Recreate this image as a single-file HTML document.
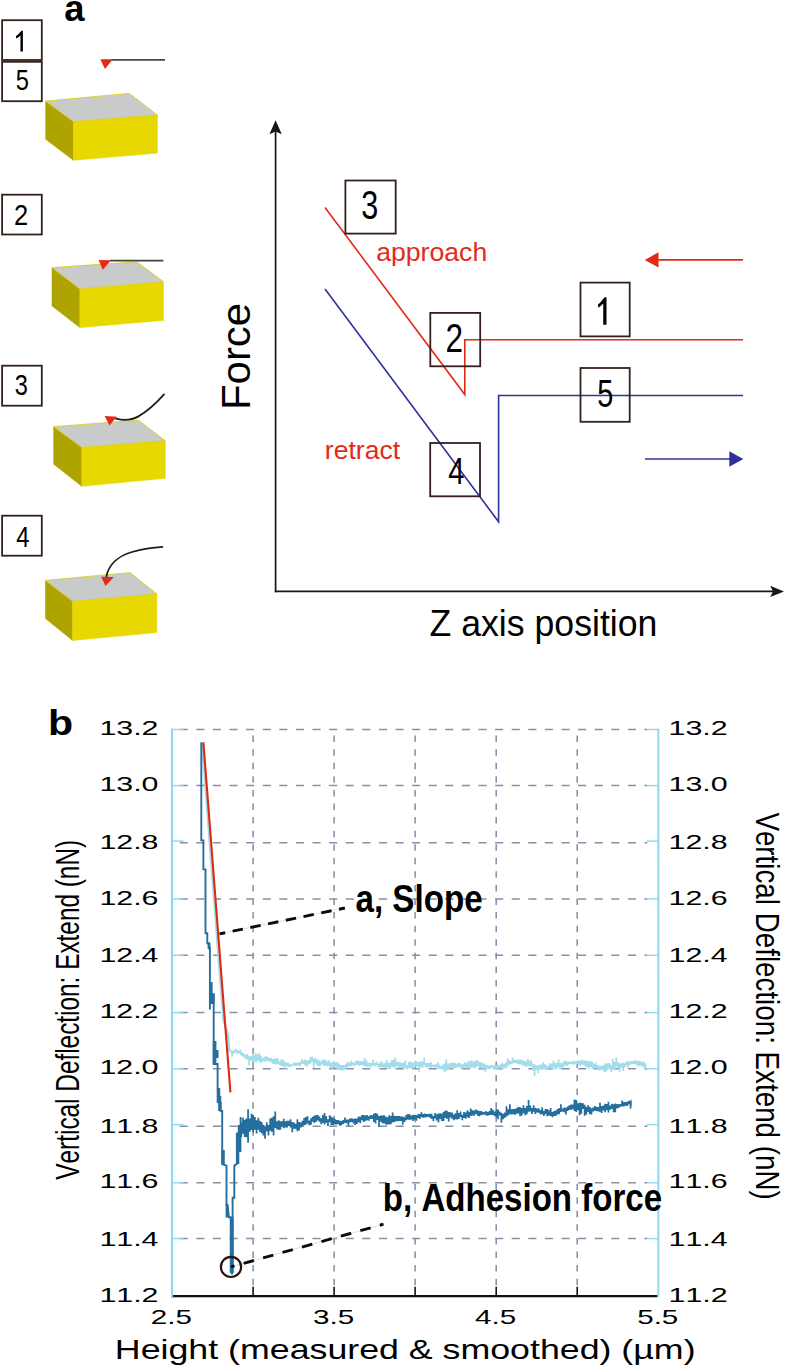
<!DOCTYPE html>
<html><head><meta charset="utf-8"><title>Figure</title>
<style>html,body{margin:0;padding:0;background:#fff;}svg{display:block;}text{font-family:"Liberation Sans", sans-serif;font-kerning:none;}</style></head><body>
<svg width="785" height="1367" viewBox="0 0 785 1367">
<rect x="0" y="0" width="785" height="1367" fill="#ffffff"/>
<text transform="translate(64.33,20.94) scale(0.9819,1)" font-size="37.05" fill="#000" font-weight="bold">a</text>
<rect x="2.10" y="20.20" width="39.70" height="39.80" fill="none" stroke="#33201b" stroke-width="1.80"/>
<path d="M22.90,51.50 L20.45,51.50 L20.45,35.48 L20.45,35.48 C19.11,36.94 17.33,38.08 16.00,38.50 L16.00,36.00 C18.22,34.86 19.41,32.78 21.55,30.70 L22.90,30.70 Z" fill="#000"/>
<rect x="2.10" y="61.80" width="39.70" height="39.40" fill="none" stroke="#33201b" stroke-width="1.80"/>
<text transform="translate(15.75,90.42) scale(0.8120,1)" font-size="29.09" fill="#000">5</text>
<rect x="2.10" y="194.70" width="39.70" height="39.80" fill="none" stroke="#33201b" stroke-width="1.80"/>
<text transform="translate(14.02,224.60) scale(0.8466,1)" font-size="30.08" fill="#000">2</text>
<rect x="2.10" y="365.70" width="39.70" height="40.00" fill="none" stroke="#33201b" stroke-width="1.80"/>
<text transform="translate(14.80,394.51) scale(0.7927,1)" font-size="29.80" fill="#000">3</text>
<rect x="2.10" y="515.70" width="39.70" height="40.00" fill="none" stroke="#33201b" stroke-width="1.80"/>
<text transform="translate(16.15,546.70) scale(0.7839,1)" font-size="30.38" fill="#000">4</text>
<polygon points="45.7,101.1 73.4,121.5 73.4,160.3 45.7,139.3" fill="#afa300" stroke="#afa300" stroke-width="0.6"/>
<polygon points="73.4,121.5 157.4,115.0 157.4,153.1 73.4,160.3" fill="#e6d800" stroke="#e6d800" stroke-width="0.6"/>
<polygon points="45.7,101.1 129.3,93.4 157.4,115.0 73.4,121.5" fill="#c9cbcb" stroke="#dccf20" stroke-width="0.9"/>
<polygon points="52.0,267.6 79.9,288.9 79.9,327.6 52.0,305.9" fill="#afa300" stroke="#afa300" stroke-width="0.6"/>
<polygon points="79.9,288.9 163.4,281.7 163.4,320.4 79.9,327.6" fill="#e6d800" stroke="#e6d800" stroke-width="0.6"/>
<polygon points="52.0,267.6 136.8,261.8 163.4,281.7 79.9,288.9" fill="#c9cbcb" stroke="#dccf20" stroke-width="0.9"/>
<polygon points="53.7,426.7 81.8,447.3 81.8,486.3 53.7,464.2" fill="#afa300" stroke="#afa300" stroke-width="0.6"/>
<polygon points="81.8,447.3 165.3,440.8 165.3,478.3 81.8,486.3" fill="#e6d800" stroke="#e6d800" stroke-width="0.6"/>
<polygon points="53.7,426.7 138.4,420.2 165.3,440.8 81.8,447.3" fill="#c9cbcb" stroke="#dccf20" stroke-width="0.9"/>
<polygon points="45.5,580.4 72.6,601.2 72.6,640.4 45.5,618.6" fill="#afa300" stroke="#afa300" stroke-width="0.6"/>
<polygon points="72.6,601.2 156.8,593.9 156.8,632.6 72.6,640.4" fill="#e6d800" stroke="#e6d800" stroke-width="0.6"/>
<polygon points="45.5,580.4 130.0,572.6 156.8,593.9 72.6,601.2" fill="#c9cbcb" stroke="#dccf20" stroke-width="0.9"/>
<line x1="111.5" y1="59.8" x2="165" y2="59.8" stroke="#444444" stroke-width="1.8"/>
<polygon points="100.3,59.2 112.8,59.2 105,69" fill="#e32a18"/>
<line x1="110" y1="260.7" x2="163.4" y2="260.7" stroke="#444444" stroke-width="1.8"/>
<polygon points="98.6,259.9 110.9,260.3 102.8,269.8" fill="#e32a18"/>
<path d="M113.5,417.3 C118,420.3 130,421.2 138,416.6 C148,411 157,402.2 164.5,393.8" fill="none" stroke="#1c1c1c" stroke-width="1.8"/>
<polygon points="104.7,416.1 116.9,416.7 109.5,425.6" fill="#e32a18"/>
<path d="M106.3,577 C108.5,565 118,556 132,552 C142,549 153,547.4 163.1,546.9" fill="none" stroke="#1c1c1c" stroke-width="1.8"/>
<polygon points="101.2,576.7 113.8,577 105.5,586" fill="#e32a18"/>
<line x1="275.6" y1="130" x2="275.6" y2="592.2" stroke="#17171c" stroke-width="1.7"/>
<line x1="274.8" y1="591.4" x2="773" y2="591.4" stroke="#17171c" stroke-width="1.6"/>
<polygon points="275.6,120.2 269.4,134.3 275.6,131.6 281.8,134.3" fill="#17171c"/>
<polygon points="784,591.4 770.2,585.7 773,591.4 770.2,597.1" fill="#17171c"/>
<polyline points="325,207.5 464.8,394.6 464.8,339.8 743,339.8" fill="none" stroke="#e32a18" stroke-width="1.6"/>
<polyline points="325,289 498.6,521.8 498.6,395.5 743,395.5" fill="none" stroke="#30309c" stroke-width="1.6"/>
<line x1="655" y1="259.9" x2="743" y2="259.9" stroke="#e32a18" stroke-width="1.6"/>
<polygon points="644.8,259.9 658.5,252.3 658.5,267.5" fill="#e32a18"/>
<line x1="645" y1="459" x2="733" y2="459" stroke="#30309c" stroke-width="1.6"/>
<polygon points="743.3,459 729.3,451.2 729.3,466.8" fill="#30309c"/>
<rect x="345.40" y="180.50" width="50.30" height="53.10" fill="none" stroke="#33201b" stroke-width="1.80"/>
<text transform="translate(361.24,218.91) scale(0.7678,1)" font-size="39.83" fill="#000">3</text>
<rect x="430.30" y="312.90" width="49.90" height="53.40" fill="none" stroke="#33201b" stroke-width="1.80"/>
<text transform="translate(445.61,352.40) scale(0.7911,1)" font-size="39.96" fill="#000">2</text>
<rect x="580.50" y="282.60" width="49.20" height="53.80" fill="none" stroke="#33201b" stroke-width="1.80"/>
<path d="M606.50,324.80 L603.24,324.80 L603.24,303.55 L603.24,303.55 C601.70,305.48 599.64,307.00 598.10,307.55 L598.10,304.24 C600.67,302.72 601.98,299.96 604.71,297.20 L606.50,297.20 Z" fill="#000"/>
<rect x="580.50" y="368.00" width="49.20" height="53.80" fill="none" stroke="#33201b" stroke-width="1.80"/>
<text transform="translate(597.24,406.52) scale(0.7332,1)" font-size="39.41" fill="#000">5</text>
<rect x="430.20" y="443.00" width="49.80" height="53.30" fill="none" stroke="#33201b" stroke-width="1.80"/>
<text transform="translate(448.23,483.70) scale(0.7719,1)" font-size="37.79" fill="#000">4</text>
<text transform="translate(376.17,261.30) scale(1.0537,1)" font-size="25.30" fill="#e32a18">approach</text>
<text transform="translate(324.83,459.00) scale(1.0511,1)" font-size="25.30" fill="#e32a18">retract</text>
<text transform="translate(429.47,635.60) scale(0.9591,1)" font-size="37.20" fill="#000">Z axis position</text>
<text transform="translate(249.70,410.04) rotate(-90) scale(1.0355,1)" font-size="40.50" fill="#000">Force</text>
<text transform="translate(47.99,735.05) scale(1.1427,1)" font-size="35.95" fill="#000" font-weight="bold">b</text>
<line x1="179.7" y1="729.5" x2="647.3" y2="729.5" stroke="#8a8fa7" stroke-width="1.5" stroke-dasharray="8.1 8.5"/>
<line x1="179.7" y1="785.6" x2="647.3" y2="785.6" stroke="#8a8fa7" stroke-width="1.5" stroke-dasharray="8.1 8.5"/>
<line x1="179.7" y1="842.8" x2="647.3" y2="842.8" stroke="#8a8fa7" stroke-width="1.5" stroke-dasharray="8.1 8.5"/>
<line x1="179.7" y1="898.9" x2="647.3" y2="898.9" stroke="#8a8fa7" stroke-width="1.5" stroke-dasharray="8.1 8.5"/>
<line x1="179.7" y1="955.3" x2="647.3" y2="955.3" stroke="#8a8fa7" stroke-width="1.5" stroke-dasharray="8.1 8.5"/>
<line x1="179.7" y1="1012.6" x2="647.3" y2="1012.6" stroke="#8a8fa7" stroke-width="1.5" stroke-dasharray="8.1 8.5"/>
<line x1="179.7" y1="1068.8" x2="647.3" y2="1068.8" stroke="#8a8fa7" stroke-width="1.5" stroke-dasharray="8.1 8.5"/>
<line x1="179.7" y1="1126.3" x2="647.3" y2="1126.3" stroke="#8a8fa7" stroke-width="1.5" stroke-dasharray="8.1 8.5"/>
<line x1="179.7" y1="1182.8" x2="647.3" y2="1182.8" stroke="#8a8fa7" stroke-width="1.5" stroke-dasharray="8.1 8.5"/>
<line x1="179.7" y1="1238.6" x2="647.3" y2="1238.6" stroke="#8a8fa7" stroke-width="1.5" stroke-dasharray="8.1 8.5"/>
<line x1="253.1" y1="729.5" x2="253.1" y2="1288.1" stroke="#8a8fa7" stroke-width="1.55" stroke-dasharray="6.5 7.077" stroke-dashoffset="-6.1"/>
<line x1="334.1" y1="729.5" x2="334.1" y2="1288.1" stroke="#8a8fa7" stroke-width="1.55" stroke-dasharray="6.5 7.077" stroke-dashoffset="-6.1"/>
<line x1="415.1" y1="729.5" x2="415.1" y2="1288.1" stroke="#8a8fa7" stroke-width="1.55" stroke-dasharray="6.5 7.077" stroke-dashoffset="-6.1"/>
<line x1="496.2" y1="729.5" x2="496.2" y2="1288.1" stroke="#8a8fa7" stroke-width="1.55" stroke-dasharray="6.5 7.077" stroke-dashoffset="-6.1"/>
<line x1="577.2" y1="729.5" x2="577.2" y2="1288.1" stroke="#8a8fa7" stroke-width="1.55" stroke-dasharray="6.5 7.077" stroke-dashoffset="-6.1"/>
<line x1="172.0" y1="728.5" x2="172.0" y2="1298.3" stroke="#8fd8ee" stroke-width="2.2"/>
<line x1="658.3" y1="728.5" x2="658.3" y2="1297.1" stroke="#8fd8ee" stroke-width="2.0"/>
<line x1="172.0" y1="729.5" x2="183.5" y2="729.5" stroke="#8fd8ee" stroke-width="1.4"/>
<line x1="646.8" y1="729.5" x2="658.3" y2="729.5" stroke="#8fd8ee" stroke-width="1.4"/>
<line x1="172.0" y1="785.6" x2="183.5" y2="785.6" stroke="#8fd8ee" stroke-width="1.4"/>
<line x1="646.8" y1="785.6" x2="658.3" y2="785.6" stroke="#8fd8ee" stroke-width="1.4"/>
<line x1="172.0" y1="841.1" x2="183.5" y2="841.1" stroke="#8fd8ee" stroke-width="1.4"/>
<line x1="646.8" y1="841.1" x2="658.3" y2="841.1" stroke="#8fd8ee" stroke-width="1.4"/>
<line x1="172.0" y1="898.9" x2="183.5" y2="898.9" stroke="#8fd8ee" stroke-width="1.4"/>
<line x1="646.8" y1="898.9" x2="658.3" y2="898.9" stroke="#8fd8ee" stroke-width="1.4"/>
<line x1="172.0" y1="955.3" x2="183.5" y2="955.3" stroke="#8fd8ee" stroke-width="1.4"/>
<line x1="646.8" y1="955.3" x2="658.3" y2="955.3" stroke="#8fd8ee" stroke-width="1.4"/>
<line x1="172.0" y1="1012.6" x2="183.5" y2="1012.6" stroke="#8fd8ee" stroke-width="1.4"/>
<line x1="646.8" y1="1012.6" x2="658.3" y2="1012.6" stroke="#8fd8ee" stroke-width="1.4"/>
<line x1="172.0" y1="1068.8" x2="183.5" y2="1068.8" stroke="#8fd8ee" stroke-width="1.4"/>
<line x1="646.8" y1="1068.8" x2="658.3" y2="1068.8" stroke="#8fd8ee" stroke-width="1.4"/>
<line x1="172.0" y1="1124.6" x2="183.5" y2="1124.6" stroke="#8fd8ee" stroke-width="1.4"/>
<line x1="646.8" y1="1124.6" x2="658.3" y2="1124.6" stroke="#8fd8ee" stroke-width="1.4"/>
<line x1="172.0" y1="1182.8" x2="183.5" y2="1182.8" stroke="#8fd8ee" stroke-width="1.4"/>
<line x1="646.8" y1="1182.8" x2="658.3" y2="1182.8" stroke="#8fd8ee" stroke-width="1.4"/>
<line x1="172.0" y1="1238.6" x2="183.5" y2="1238.6" stroke="#8fd8ee" stroke-width="1.4"/>
<line x1="646.8" y1="1238.6" x2="658.3" y2="1238.6" stroke="#8fd8ee" stroke-width="1.4"/>
<line x1="173.0" y1="1296.1" x2="657.3" y2="1296.1" stroke="#111" stroke-width="2.2"/>
<line x1="253.1" y1="1286.8" x2="253.1" y2="1296.1" stroke="#111" stroke-width="1.6"/>
<line x1="334.1" y1="1286.8" x2="334.1" y2="1296.1" stroke="#111" stroke-width="1.6"/>
<line x1="415.1" y1="1286.8" x2="415.1" y2="1296.1" stroke="#111" stroke-width="1.6"/>
<line x1="496.2" y1="1286.8" x2="496.2" y2="1296.1" stroke="#111" stroke-width="1.6"/>
<line x1="577.2" y1="1286.8" x2="577.2" y2="1296.1" stroke="#111" stroke-width="1.6"/>
<polyline points="202.0,742.3 223.4,1020.0 227.8,1034.0 229.2,1049.0" fill="none" stroke="#a3dcea" stroke-width="2.30" stroke-linejoin="miter"/>
<path d="M227.80,1045.0h1.75v6.4h-1.75zM229.50,1049.2h1.75v3.2h-1.75zM231.20,1050.7h1.75v6.0h-1.75zM232.90,1050.6h1.75v3.1h-1.75zM234.60,1048.7h1.75v3.2h-1.75zM236.30,1049.8h1.75v4.2h-1.75zM238.00,1050.4h1.75v2.9h-1.75zM239.70,1049.8h1.75v5.2h-1.75zM241.40,1052.5h1.75v3.8h-1.75zM243.10,1053.5h1.75v4.1h-1.75zM244.80,1055.1h1.75v4.2h-1.75zM246.50,1053.7h1.75v6.1h-1.75zM248.20,1056.3h1.75v8.9h-1.75zM249.90,1056.1h1.75v4.6h-1.75zM251.60,1055.3h1.75v6.2h-1.75zM253.30,1054.8h1.75v6.2h-1.75zM255.00,1053.2h1.75v9.5h-1.75zM256.70,1054.5h1.75v6.3h-1.75zM258.40,1052.9h1.75v8.5h-1.75zM260.10,1055.7h1.75v7.3h-1.75zM261.80,1058.0h1.75v3.6h-1.75zM263.50,1057.2h1.75v4.4h-1.75zM265.20,1056.1h1.75v5.5h-1.75zM266.90,1056.9h1.75v4.0h-1.75zM268.60,1058.2h1.75v3.4h-1.75zM270.30,1057.8h1.75v4.7h-1.75zM272.00,1059.0h1.75v4.7h-1.75zM273.70,1058.5h1.75v5.4h-1.75zM275.40,1058.2h1.75v6.5h-1.75zM277.10,1058.5h1.75v5.6h-1.75zM278.80,1061.4h1.75v3.5h-1.75zM280.50,1059.0h1.75v7.2h-1.75zM282.20,1059.7h1.75v6.7h-1.75zM283.90,1061.5h1.75v7.9h-1.75zM285.60,1062.7h1.75v3.3h-1.75zM287.30,1062.8h1.75v4.3h-1.75zM289.00,1064.2h1.75v2.8h-1.75zM290.70,1064.3h1.75v2.1h-1.75zM292.40,1063.3h1.75v2.3h-1.75zM294.10,1062.5h1.75v3.6h-1.75zM295.80,1062.9h1.75v2.8h-1.75zM297.50,1062.3h1.75v3.2h-1.75zM299.20,1062.0h1.75v4.3h-1.75zM300.90,1059.3h1.75v4.3h-1.75zM302.60,1060.4h1.75v3.6h-1.75zM304.30,1059.2h1.75v6.4h-1.75zM306.00,1060.6h1.75v6.1h-1.75zM307.70,1060.2h1.75v4.4h-1.75zM309.40,1057.4h1.75v6.4h-1.75zM311.10,1056.6h1.75v5.4h-1.75zM312.80,1058.5h1.75v9.2h-1.75zM314.50,1057.7h1.75v5.5h-1.75zM316.20,1059.5h1.75v5.7h-1.75zM317.90,1060.1h1.75v6.5h-1.75zM319.60,1061.5h1.75v4.7h-1.75zM321.30,1059.7h1.75v4.8h-1.75zM323.00,1059.5h1.75v6.2h-1.75zM324.70,1059.7h1.75v6.0h-1.75zM326.40,1061.5h1.75v4.7h-1.75zM328.10,1060.2h1.75v5.7h-1.75zM329.80,1062.4h1.75v5.9h-1.75zM331.50,1062.2h1.75v7.5h-1.75zM333.20,1061.3h1.75v5.7h-1.75zM334.90,1062.4h1.75v4.8h-1.75zM336.60,1061.9h1.75v7.5h-1.75zM338.30,1063.6h1.75v6.7h-1.75zM340.00,1065.1h1.75v5.0h-1.75zM341.70,1065.0h1.75v5.8h-1.75zM343.40,1064.9h1.75v5.3h-1.75zM345.10,1063.6h1.75v4.9h-1.75zM346.80,1061.8h1.75v5.1h-1.75zM348.50,1062.9h1.75v3.7h-1.75zM350.20,1060.8h1.75v5.5h-1.75zM351.90,1062.3h1.75v2.9h-1.75zM353.60,1062.4h1.75v3.8h-1.75zM355.30,1060.7h1.75v4.3h-1.75zM357.00,1060.6h1.75v4.3h-1.75zM358.70,1061.2h1.75v4.7h-1.75zM360.40,1060.9h1.75v4.1h-1.75zM362.10,1061.2h1.75v4.3h-1.75zM363.80,1057.9h1.75v8.4h-1.75zM365.50,1060.3h1.75v6.4h-1.75zM367.20,1062.6h1.75v4.4h-1.75zM368.90,1062.8h1.75v3.7h-1.75zM370.60,1063.0h1.75v4.3h-1.75zM372.30,1059.5h1.75v6.0h-1.75zM374.00,1062.8h1.75v3.8h-1.75zM375.70,1061.6h1.75v3.6h-1.75zM377.40,1063.5h1.75v3.5h-1.75zM379.10,1063.1h1.75v6.8h-1.75zM380.80,1061.0h1.75v5.9h-1.75zM382.50,1063.5h1.75v4.0h-1.75zM384.20,1062.9h1.75v4.8h-1.75zM385.90,1059.7h1.75v7.9h-1.75zM387.60,1063.1h1.75v5.6h-1.75zM389.30,1062.4h1.75v6.5h-1.75zM391.00,1060.2h1.75v6.6h-1.75zM392.70,1059.8h1.75v7.7h-1.75zM394.40,1057.5h1.75v10.1h-1.75zM396.10,1061.4h1.75v4.5h-1.75zM397.80,1062.3h1.75v5.9h-1.75zM399.50,1062.1h1.75v5.6h-1.75zM401.20,1063.1h1.75v4.6h-1.75zM402.90,1062.4h1.75v6.9h-1.75zM404.60,1060.5h1.75v7.2h-1.75zM406.30,1064.9h1.75v4.6h-1.75zM408.00,1061.9h1.75v6.5h-1.75zM409.70,1061.2h1.75v7.0h-1.75zM411.40,1062.7h1.75v5.5h-1.75zM413.10,1062.5h1.75v6.3h-1.75zM414.80,1060.7h1.75v6.0h-1.75zM416.50,1061.7h1.75v5.1h-1.75zM418.20,1062.0h1.75v10.3h-1.75zM419.90,1061.3h1.75v5.6h-1.75zM421.60,1061.7h1.75v6.3h-1.75zM423.30,1057.7h1.75v7.7h-1.75zM425.00,1062.9h1.75v4.4h-1.75zM426.70,1063.0h1.75v4.4h-1.75zM428.40,1063.1h1.75v4.4h-1.75zM430.10,1061.9h1.75v5.6h-1.75zM431.80,1064.7h1.75v2.4h-1.75zM433.50,1064.5h1.75v3.1h-1.75zM435.20,1064.1h1.75v3.5h-1.75zM436.90,1062.1h1.75v6.2h-1.75zM438.60,1064.6h1.75v4.1h-1.75zM440.30,1066.2h1.75v3.0h-1.75zM442.00,1064.4h1.75v4.9h-1.75zM443.70,1063.4h1.75v8.5h-1.75zM445.40,1059.4h1.75v11.1h-1.75zM447.10,1063.4h1.75v6.5h-1.75zM448.80,1063.2h1.75v6.3h-1.75zM450.50,1062.8h1.75v5.3h-1.75zM452.20,1062.7h1.75v6.4h-1.75zM453.90,1062.6h1.75v5.3h-1.75zM455.60,1063.7h1.75v4.3h-1.75zM457.30,1063.1h1.75v4.0h-1.75zM459.00,1063.1h1.75v4.5h-1.75zM460.70,1064.2h1.75v5.1h-1.75zM462.40,1063.7h1.75v4.7h-1.75zM464.10,1062.3h1.75v5.3h-1.75zM465.80,1062.9h1.75v5.5h-1.75zM467.50,1061.0h1.75v6.4h-1.75zM469.20,1061.3h1.75v7.1h-1.75zM470.90,1060.1h1.75v7.7h-1.75zM472.60,1061.4h1.75v6.2h-1.75zM474.30,1061.1h1.75v7.3h-1.75zM476.00,1059.7h1.75v6.7h-1.75zM477.70,1061.6h1.75v5.4h-1.75zM479.40,1062.0h1.75v5.8h-1.75zM481.10,1062.7h1.75v7.7h-1.75zM482.80,1063.3h1.75v4.3h-1.75zM484.50,1064.2h1.75v7.7h-1.75zM486.20,1065.1h1.75v3.1h-1.75zM487.90,1065.5h1.75v3.5h-1.75zM489.60,1065.3h1.75v3.5h-1.75zM491.30,1065.0h1.75v2.8h-1.75zM493.00,1065.4h1.75v4.0h-1.75zM494.70,1065.9h1.75v3.3h-1.75zM496.40,1063.6h1.75v5.7h-1.75zM498.10,1065.3h1.75v3.0h-1.75zM499.80,1064.3h1.75v4.2h-1.75zM501.50,1062.4h1.75v6.5h-1.75zM503.20,1064.0h1.75v3.7h-1.75zM504.90,1062.2h1.75v6.2h-1.75zM506.60,1058.6h1.75v7.8h-1.75zM508.30,1060.0h1.75v4.7h-1.75zM510.00,1060.9h1.75v3.4h-1.75zM511.70,1057.2h1.75v6.3h-1.75zM513.40,1059.5h1.75v3.4h-1.75zM515.10,1060.1h1.75v3.0h-1.75zM516.80,1059.5h1.75v4.6h-1.75zM518.50,1059.7h1.75v4.7h-1.75zM520.20,1059.6h1.75v5.0h-1.75zM521.90,1060.4h1.75v5.0h-1.75zM523.60,1060.5h1.75v5.2h-1.75zM525.30,1061.2h1.75v6.1h-1.75zM527.00,1058.9h1.75v7.2h-1.75zM528.70,1061.2h1.75v5.4h-1.75zM530.40,1060.3h1.75v6.1h-1.75zM532.10,1063.6h1.75v7.1h-1.75zM533.80,1064.5h1.75v11.3h-1.75zM535.50,1065.5h1.75v4.3h-1.75zM537.20,1065.3h1.75v7.7h-1.75zM538.90,1064.8h1.75v4.6h-1.75zM540.60,1064.6h1.75v5.3h-1.75zM542.30,1062.3h1.75v7.0h-1.75zM544.00,1063.9h1.75v4.9h-1.75zM545.70,1065.6h1.75v3.9h-1.75zM547.40,1065.7h1.75v3.9h-1.75zM549.10,1062.9h1.75v5.0h-1.75zM550.80,1063.7h1.75v5.4h-1.75zM552.50,1060.8h1.75v6.6h-1.75zM554.20,1062.8h1.75v6.7h-1.75zM555.90,1063.0h1.75v6.0h-1.75zM557.60,1059.2h1.75v8.0h-1.75zM559.30,1062.7h1.75v6.7h-1.75zM561.00,1063.3h1.75v4.6h-1.75zM562.70,1061.5h1.75v5.4h-1.75zM564.40,1060.7h1.75v4.5h-1.75zM566.10,1061.4h1.75v4.8h-1.75zM567.80,1061.6h1.75v3.2h-1.75zM569.50,1061.6h1.75v2.4h-1.75zM571.20,1061.6h1.75v2.7h-1.75zM572.90,1060.5h1.75v4.3h-1.75zM574.60,1061.4h1.75v2.9h-1.75zM576.30,1061.3h1.75v3.3h-1.75zM578.00,1060.2h1.75v5.2h-1.75zM579.70,1060.8h1.75v4.7h-1.75zM581.40,1059.4h1.75v5.1h-1.75zM583.10,1060.7h1.75v4.4h-1.75zM584.80,1060.3h1.75v6.8h-1.75zM586.50,1061.0h1.75v6.2h-1.75zM588.20,1061.6h1.75v6.9h-1.75zM589.90,1061.0h1.75v6.0h-1.75zM591.60,1061.8h1.75v7.2h-1.75zM593.30,1063.8h1.75v6.2h-1.75zM595.00,1062.7h1.75v5.5h-1.75zM596.70,1065.0h1.75v4.9h-1.75zM598.40,1065.8h1.75v4.8h-1.75zM600.10,1066.1h1.75v3.6h-1.75zM601.80,1065.5h1.75v4.2h-1.75zM603.50,1064.5h1.75v7.8h-1.75zM605.20,1063.1h1.75v8.4h-1.75zM606.90,1063.5h1.75v6.2h-1.75zM608.60,1063.1h1.75v6.0h-1.75zM610.30,1064.8h1.75v7.1h-1.75zM612.00,1058.7h1.75v10.3h-1.75zM613.70,1062.1h1.75v7.3h-1.75zM615.40,1057.2h1.75v9.3h-1.75zM617.10,1062.1h1.75v6.5h-1.75zM618.80,1063.2h1.75v8.7h-1.75zM620.50,1063.3h1.75v4.7h-1.75zM622.20,1062.4h1.75v8.6h-1.75zM623.90,1063.3h1.75v4.2h-1.75zM625.60,1061.3h1.75v4.2h-1.75zM627.30,1061.4h1.75v6.2h-1.75zM629.00,1061.3h1.75v3.7h-1.75zM630.70,1061.2h1.75v2.7h-1.75zM632.40,1061.1h1.75v2.8h-1.75zM634.10,1060.3h1.75v3.9h-1.75zM635.80,1060.7h1.75v4.3h-1.75zM637.50,1061.2h1.75v5.0h-1.75zM639.20,1060.9h1.75v5.1h-1.75zM640.90,1062.0h1.75v4.1h-1.75zM642.60,1061.2h1.75v6.3h-1.75zM644.30,1062.9h1.75v7.6h-1.75zM646.00,1064.0h0.35v4.2h-0.35z" fill="#a3dcea"/>
<polyline points="201.3,742.3 201.3,840.4 203.4,840.4 203.4,869.4 205.5,869.4 205.5,933.3 207.3,933.3 207.3,943.2 209.1,943.2 209.1,948.2 209.9,948.2 209.9,1004.0 209.9,1009.6" fill="none" stroke="#256f9e" stroke-width="1.90" stroke-linejoin="miter"/>
<polyline points="213.7,993.5 213.7,1064.0 217.6,1064.0 217.6,1089.0 219.2,1089.0 219.2,1103.0 220.7,1103.0 220.7,1111.0 222.2,1111.0 222.2,1164.0 226.5,1165.6 226.5,1204.8 227.7,1206.0 228.9,1217.3 230.8,1217.3 230.8,1272.6" fill="none" stroke="#256f9e" stroke-width="1.90" stroke-linejoin="miter"/>
<polyline points="232.6,1273.0 232.6,1197.7 234.3,1197.7 234.3,1165.6 237.0,1163.8 237.0,1133.5 240.6,1133.5 240.6,1117.0" fill="none" stroke="#256f9e" stroke-width="1.90" stroke-linejoin="miter"/>
<rect x="207.6" y="943.0" width="2.8" height="6.0" fill="#256f9e"/>
<rect x="209.0" y="982.0" width="3.6" height="22.0" fill="#256f9e"/>
<rect x="211.0" y="993.5" width="3.6" height="10.5" fill="#256f9e"/>
<rect x="212.8" y="1041.0" width="3.6" height="23.0" fill="#256f9e"/>
<rect x="215.7" y="1050.0" width="2.8" height="8.0" fill="#256f9e"/>
<rect x="216.7" y="1089.0" width="3.4" height="14.0" fill="#256f9e"/>
<rect x="218.2" y="1096.0" width="3.1" height="15.0" fill="#256f9e"/>
<rect x="221.3" y="1150.0" width="3.5" height="14.0" fill="#256f9e"/>
<rect x="225.6" y="1204.0" width="2.8" height="13.5" fill="#256f9e"/>
<rect x="229.9" y="1217.0" width="3.7" height="55.8" fill="#256f9e"/>
<rect x="231.0" y="1272.0" width="2.0" height="2.5" fill="#256f9e"/>
<rect x="235.9" y="1133.0" width="3.4" height="31.0" fill="#256f9e"/>
<rect x="237.8" y="1125.0" width="3.6" height="27.0" fill="#256f9e"/>
<path d="M240.40,1122.3h1.75v14.6h-1.75zM242.10,1117.8h1.75v15.9h-1.75zM243.80,1119.7h1.75v17.2h-1.75zM245.50,1118.6h1.75v18.7h-1.75zM247.20,1109.3h1.75v33.5h-1.75zM248.90,1118.5h1.75v13.2h-1.75zM250.60,1113.6h1.75v16.4h-1.75zM252.30,1115.0h1.75v17.4h-1.75zM254.00,1117.0h1.75v12.7h-1.75zM255.70,1120.2h1.75v13.2h-1.75zM257.40,1117.8h1.75v12.0h-1.75zM259.10,1120.8h1.75v11.1h-1.75zM260.80,1122.0h1.75v11.3h-1.75zM262.50,1124.7h1.75v10.7h-1.75zM264.20,1127.1h1.75v11.6h-1.75zM265.90,1122.2h1.75v9.3h-1.75zM267.60,1125.0h1.75v10.5h-1.75zM269.30,1118.5h1.75v12.3h-1.75zM271.00,1117.8h1.75v13.9h-1.75zM272.70,1116.2h1.75v19.3h-1.75zM274.40,1111.6h1.75v16.5h-1.75zM276.10,1121.3h1.75v8.0h-1.75zM277.80,1120.3h1.75v9.7h-1.75zM279.50,1121.3h1.75v8.4h-1.75zM281.20,1121.3h1.75v5.2h-1.75zM282.90,1118.8h1.75v9.5h-1.75zM284.60,1121.3h1.75v6.3h-1.75zM286.30,1120.8h1.75v6.8h-1.75zM288.00,1120.7h1.75v5.2h-1.75zM289.70,1119.2h1.75v8.3h-1.75zM291.40,1122.1h1.75v10.1h-1.75zM293.10,1122.4h1.75v6.4h-1.75zM294.80,1123.8h1.75v5.2h-1.75zM296.50,1119.2h1.75v12.0h-1.75zM298.20,1122.1h1.75v8.5h-1.75zM299.90,1122.4h1.75v5.2h-1.75zM301.60,1120.8h1.75v5.5h-1.75zM303.30,1118.1h1.75v7.2h-1.75zM305.00,1117.0h1.75v7.8h-1.75zM306.70,1116.2h1.75v7.4h-1.75zM308.40,1120.4h1.75v4.8h-1.75zM310.10,1118.2h1.75v6.5h-1.75zM311.80,1116.8h1.75v5.0h-1.75zM313.50,1115.8h1.75v7.1h-1.75zM315.20,1115.0h1.75v6.7h-1.75zM316.90,1115.1h1.75v5.4h-1.75zM318.60,1116.6h1.75v5.1h-1.75zM320.30,1118.3h1.75v6.0h-1.75zM322.00,1115.0h1.75v8.0h-1.75zM323.70,1113.1h1.75v11.5h-1.75zM325.40,1116.2h1.75v6.6h-1.75zM327.10,1119.2h1.75v6.7h-1.75zM328.80,1115.3h1.75v7.0h-1.75zM330.50,1116.8h1.75v8.3h-1.75zM332.20,1117.7h1.75v7.5h-1.75zM333.90,1118.8h1.75v5.8h-1.75zM335.60,1120.1h1.75v4.3h-1.75zM337.30,1120.0h1.75v4.3h-1.75zM339.00,1120.8h1.75v4.9h-1.75zM340.70,1121.0h1.75v4.2h-1.75zM342.40,1120.1h1.75v4.0h-1.75zM344.10,1117.4h1.75v5.7h-1.75zM345.80,1119.6h1.75v3.6h-1.75zM347.50,1119.4h1.75v6.6h-1.75zM349.20,1118.6h1.75v4.0h-1.75zM350.90,1118.2h1.75v3.8h-1.75zM352.60,1119.0h1.75v4.4h-1.75zM354.30,1118.5h1.75v6.6h-1.75zM356.00,1118.6h1.75v5.3h-1.75zM357.70,1116.4h1.75v5.8h-1.75zM359.40,1116.7h1.75v6.5h-1.75zM361.10,1114.9h1.75v5.3h-1.75zM362.80,1115.1h1.75v6.9h-1.75zM364.50,1115.5h1.75v5.6h-1.75zM366.20,1115.0h1.75v5.2h-1.75zM367.90,1116.3h1.75v4.4h-1.75zM369.60,1115.1h1.75v4.0h-1.75zM371.30,1115.2h1.75v3.8h-1.75zM373.00,1113.8h1.75v8.3h-1.75zM374.70,1112.9h1.75v10.6h-1.75zM376.40,1113.8h1.75v6.3h-1.75zM378.10,1116.0h1.75v10.9h-1.75zM379.80,1115.4h1.75v6.3h-1.75zM381.50,1115.4h1.75v7.9h-1.75zM383.20,1115.3h1.75v8.0h-1.75zM384.90,1116.4h1.75v8.1h-1.75zM386.60,1117.2h1.75v7.6h-1.75zM388.30,1115.3h1.75v9.0h-1.75zM390.00,1115.9h1.75v8.4h-1.75zM391.70,1112.5h1.75v10.1h-1.75zM393.40,1115.8h1.75v6.3h-1.75zM395.10,1116.1h1.75v5.1h-1.75zM396.80,1116.1h1.75v5.1h-1.75zM398.50,1116.1h1.75v4.9h-1.75zM400.20,1116.5h1.75v4.5h-1.75zM401.90,1116.5h1.75v7.9h-1.75zM403.60,1117.3h1.75v4.8h-1.75zM405.30,1114.9h1.75v5.4h-1.75zM407.00,1114.1h1.75v5.4h-1.75zM408.70,1114.3h1.75v5.6h-1.75zM410.40,1115.4h1.75v4.2h-1.75zM412.10,1115.0h1.75v5.9h-1.75zM413.80,1114.8h1.75v4.6h-1.75zM415.50,1115.3h1.75v5.5h-1.75zM417.20,1114.2h1.75v3.9h-1.75zM418.90,1114.0h1.75v5.0h-1.75zM420.60,1112.2h1.75v5.1h-1.75zM422.30,1113.9h1.75v3.9h-1.75zM424.00,1113.6h1.75v4.0h-1.75zM425.70,1113.9h1.75v3.4h-1.75zM427.40,1113.9h1.75v2.8h-1.75zM429.10,1113.8h1.75v3.9h-1.75zM430.80,1113.8h1.75v5.2h-1.75zM432.50,1115.9h1.75v5.0h-1.75zM434.20,1112.9h1.75v5.6h-1.75zM435.90,1114.3h1.75v6.2h-1.75zM437.60,1113.4h1.75v9.2h-1.75zM439.30,1113.3h1.75v5.8h-1.75zM441.00,1113.8h1.75v7.3h-1.75zM442.70,1112.0h1.75v9.0h-1.75zM444.40,1110.6h1.75v7.4h-1.75zM446.10,1110.8h1.75v7.9h-1.75zM447.80,1112.1h1.75v9.5h-1.75zM449.50,1112.2h1.75v5.4h-1.75zM451.20,1112.6h1.75v6.1h-1.75zM452.90,1114.5h1.75v5.8h-1.75zM454.60,1113.2h1.75v6.0h-1.75zM456.30,1110.2h1.75v9.4h-1.75zM458.00,1112.9h1.75v6.2h-1.75zM459.70,1111.5h1.75v5.8h-1.75zM461.40,1114.8h1.75v5.5h-1.75zM463.10,1112.1h1.75v5.9h-1.75zM464.80,1112.4h1.75v6.4h-1.75zM466.50,1110.3h1.75v6.9h-1.75zM468.20,1111.7h1.75v6.4h-1.75zM469.90,1108.5h1.75v7.5h-1.75zM471.60,1110.2h1.75v5.2h-1.75zM473.30,1110.6h1.75v5.2h-1.75zM475.00,1109.5h1.75v4.4h-1.75zM476.70,1110.3h1.75v5.5h-1.75zM478.40,1111.1h1.75v5.2h-1.75zM480.10,1111.1h1.75v4.2h-1.75zM481.80,1111.7h1.75v3.4h-1.75zM483.50,1112.1h1.75v2.5h-1.75zM485.20,1111.1h1.75v4.4h-1.75zM486.90,1112.0h1.75v3.7h-1.75zM488.60,1111.0h1.75v3.9h-1.75zM490.30,1107.9h1.75v7.0h-1.75zM492.00,1109.7h1.75v5.2h-1.75zM493.70,1111.4h1.75v4.5h-1.75zM495.40,1109.0h1.75v8.2h-1.75zM497.10,1109.5h1.75v9.7h-1.75zM498.80,1111.4h1.75v4.0h-1.75zM500.50,1112.8h1.75v9.9h-1.75zM502.20,1113.8h1.75v5.5h-1.75zM503.90,1112.5h1.75v5.5h-1.75zM505.60,1106.3h1.75v10.2h-1.75zM507.30,1109.3h1.75v6.2h-1.75zM509.00,1104.3h1.75v9.9h-1.75zM510.70,1109.2h1.75v5.2h-1.75zM512.40,1109.0h1.75v5.3h-1.75zM514.10,1109.0h1.75v5.7h-1.75zM515.80,1107.9h1.75v5.8h-1.75zM517.50,1106.7h1.75v6.8h-1.75zM519.20,1107.3h1.75v9.0h-1.75zM520.90,1107.9h1.75v7.5h-1.75zM522.60,1105.2h1.75v8.0h-1.75zM524.30,1107.9h1.75v7.4h-1.75zM526.00,1106.0h1.75v8.2h-1.75zM527.70,1100.1h1.75v11.7h-1.75zM529.40,1105.5h1.75v5.9h-1.75zM531.10,1108.0h1.75v5.9h-1.75zM532.80,1105.3h1.75v6.5h-1.75zM534.50,1107.8h1.75v6.2h-1.75zM536.20,1108.4h1.75v4.0h-1.75zM537.90,1108.2h1.75v4.6h-1.75zM539.60,1110.0h1.75v4.4h-1.75zM541.30,1107.2h1.75v7.1h-1.75zM543.00,1110.7h1.75v5.3h-1.75zM544.70,1108.9h1.75v5.3h-1.75zM546.40,1108.9h1.75v7.4h-1.75zM548.10,1110.3h1.75v5.1h-1.75zM549.80,1108.0h1.75v8.0h-1.75zM551.50,1112.1h1.75v5.1h-1.75zM553.20,1111.0h1.75v5.1h-1.75zM554.90,1110.4h1.75v5.6h-1.75zM556.60,1109.1h1.75v5.4h-1.75zM558.30,1108.0h1.75v6.3h-1.75zM560.00,1104.2h1.75v7.9h-1.75zM561.70,1108.6h1.75v3.0h-1.75zM563.40,1107.5h1.75v4.8h-1.75zM565.10,1107.7h1.75v6.7h-1.75zM566.80,1106.4h1.75v4.6h-1.75zM568.50,1105.2h1.75v4.7h-1.75zM570.20,1104.6h1.75v5.2h-1.75zM571.90,1104.6h1.75v4.7h-1.75zM573.60,1099.6h1.75v11.3h-1.75zM575.30,1100.0h1.75v12.1h-1.75zM577.00,1103.5h1.75v6.8h-1.75zM578.70,1102.4h1.75v12.8h-1.75zM580.40,1102.9h1.75v10.9h-1.75zM582.10,1103.2h1.75v5.8h-1.75zM583.80,1104.7h1.75v11.1h-1.75zM585.50,1106.9h1.75v7.6h-1.75zM587.20,1105.3h1.75v6.8h-1.75zM588.90,1106.8h1.75v7.4h-1.75zM590.60,1108.3h1.75v6.3h-1.75zM592.30,1107.4h1.75v4.1h-1.75zM594.00,1106.0h1.75v4.8h-1.75zM595.70,1106.7h1.75v4.2h-1.75zM597.40,1107.0h1.75v4.4h-1.75zM599.10,1102.8h1.75v9.0h-1.75zM600.80,1105.9h1.75v7.0h-1.75zM602.50,1105.6h1.75v4.8h-1.75zM604.20,1103.7h1.75v8.5h-1.75zM605.90,1104.1h1.75v6.2h-1.75zM607.60,1101.7h1.75v10.7h-1.75zM609.30,1105.6h1.75v4.2h-1.75zM611.00,1103.7h1.75v5.2h-1.75zM612.70,1104.2h1.75v8.1h-1.75zM614.40,1103.4h1.75v8.8h-1.75zM616.10,1103.9h1.75v4.6h-1.75zM617.80,1104.3h1.75v3.8h-1.75zM619.50,1104.1h1.75v2.7h-1.75zM621.20,1100.6h1.75v5.8h-1.75zM622.90,1102.0h1.75v4.4h-1.75zM624.60,1102.1h1.75v3.6h-1.75zM626.30,1101.8h1.75v4.1h-1.75zM628.00,1100.8h1.75v3.7h-1.75zM629.70,1100.6h1.75v7.9h-1.75zM631.40,1099.2h0.35v6.6h-0.35z" fill="#256f9e"/>
<line x1="203.4" y1="742.3" x2="230.4" y2="1092.3" stroke="#df2a12" stroke-width="2.1"/>
<line x1="219.5" y1="933.9" x2="344.9" y2="908.0" stroke="#d6cccc" stroke-width="0.7"/>
<line x1="219.5" y1="933.9" x2="344.9" y2="908.0" stroke="#0c0c0c" stroke-width="2.9" stroke-dasharray="10.5 7.6" stroke-dashoffset="4.7"/>
<line x1="231" y1="1266.9" x2="383.5" y2="1224.2" stroke="#d6cccc" stroke-width="0.7"/>
<line x1="231" y1="1266.9" x2="383.5" y2="1224.2" stroke="#0c0c0c" stroke-width="2.9" stroke-dasharray="10.7 9.5" stroke-dashoffset="7.1"/>
<circle cx="231" cy="1266.9" r="10.1" fill="none" stroke="#2a120c" stroke-width="2.2"/>
<text transform="translate(355.43,911.60) scale(0.8646,1)" font-size="38.40" fill="#000" font-weight="bold">a, Slope</text>
<text transform="translate(382.82,1210.60) scale(0.8616,1)" font-size="38.40" fill="#000" font-weight="bold">b, Adhesion force</text>
<text transform="translate(99.39,734.90) scale(1.5043,1)" font-size="20.20" fill="#000">13.2</text>
<text transform="translate(668.49,734.90) scale(1.5043,1)" font-size="20.20" fill="#000">13.2</text>
<text transform="translate(99.39,791.30) scale(1.5043,1)" font-size="20.20" fill="#000">13.0</text>
<text transform="translate(668.49,791.30) scale(1.5043,1)" font-size="20.20" fill="#000">13.0</text>
<text transform="translate(99.39,848.60) scale(1.5043,1)" font-size="20.20" fill="#000">12.8</text>
<text transform="translate(668.49,848.60) scale(1.5043,1)" font-size="20.20" fill="#000">12.8</text>
<text transform="translate(99.39,904.70) scale(1.5043,1)" font-size="20.20" fill="#000">12.6</text>
<text transform="translate(668.49,904.70) scale(1.5043,1)" font-size="20.20" fill="#000">12.6</text>
<text transform="translate(99.39,962.30) scale(1.5043,1)" font-size="20.20" fill="#000">12.4</text>
<text transform="translate(668.49,962.30) scale(1.5043,1)" font-size="20.20" fill="#000">12.4</text>
<text transform="translate(99.39,1018.25) scale(1.5043,1)" font-size="20.20" fill="#000">12.2</text>
<text transform="translate(668.49,1018.25) scale(1.5043,1)" font-size="20.20" fill="#000">12.2</text>
<text transform="translate(99.39,1074.20) scale(1.5043,1)" font-size="20.20" fill="#000">12.0</text>
<text transform="translate(668.49,1074.20) scale(1.5043,1)" font-size="20.20" fill="#000">12.0</text>
<text transform="translate(99.39,1132.50) scale(1.5043,1)" font-size="20.20" fill="#000">11.8</text>
<text transform="translate(668.49,1132.50) scale(1.5043,1)" font-size="20.20" fill="#000">11.8</text>
<text transform="translate(99.39,1188.45) scale(1.5043,1)" font-size="20.20" fill="#000">11.6</text>
<text transform="translate(668.49,1188.45) scale(1.5043,1)" font-size="20.20" fill="#000">11.6</text>
<text transform="translate(99.39,1245.60) scale(1.5043,1)" font-size="20.20" fill="#000">11.4</text>
<text transform="translate(668.49,1245.60) scale(1.5043,1)" font-size="20.20" fill="#000">11.4</text>
<text transform="translate(99.39,1302.00) scale(1.5043,1)" font-size="20.20" fill="#000">11.2</text>
<text transform="translate(668.49,1302.00) scale(1.5043,1)" font-size="20.20" fill="#000">11.2</text>
<text transform="translate(150.87,1323.90) scale(1.4662,1)" font-size="20.20" fill="#000">2.5</text>
<text transform="translate(312.97,1323.90) scale(1.4662,1)" font-size="20.20" fill="#000">3.5</text>
<text transform="translate(475.07,1323.90) scale(1.4662,1)" font-size="20.20" fill="#000">4.5</text>
<text transform="translate(637.17,1323.90) scale(1.4662,1)" font-size="20.20" fill="#000">5.5</text>
<text transform="translate(114.87,1359.10) scale(1.3145,1)" font-size="27.20" fill="#000">Height (measured &amp; smoothed) (µm)</text>
<text transform="translate(79.20,1179.71) rotate(-90) scale(0.7233,1)" font-size="33.70" fill="#000">Vertical Deflection: Extend (nN)</text>
<text transform="translate(755.80,812.38) rotate(90) scale(0.8219,1)" font-size="33.80" fill="#000">Vertical Deflection: Extend (nN)</text>
</svg></body></html>
